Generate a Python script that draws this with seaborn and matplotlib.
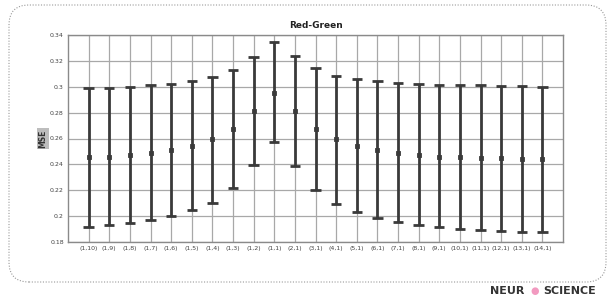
import numpy as np
import pandas as pd
import matplotlib
matplotlib.use("Agg")
import matplotlib.pyplot as plt
import seaborn as sns
from matplotlib.patches import FancyBboxPatch

categories = ["(1,10)", "(1,9)", "(1,8)", "(1,7)", "(1,6)", "(1,5)", "(1,4)", "(1,3)",
              "(1,2)", "(1,1)", "(2,1)", "(3,1)", "(4,1)", "(5,1)", "(6,1)", "(7,1)",
              "(8,1)", "(9,1)", "(10,1)", "(11,1)", "(12,1)", "(13,1)", "(14,1)"]
mean_vals = [0.2458, 0.2460, 0.2476, 0.2491, 0.2510, 0.2543, 0.2595, 0.2672,
             0.2815, 0.2954, 0.2815, 0.2673, 0.2595, 0.2540, 0.2512, 0.2491,
             0.2476, 0.2460, 0.2458, 0.2453, 0.2448, 0.2445, 0.2440]
upper_vals = [0.2988, 0.2993, 0.3000, 0.3011, 0.3021, 0.3042, 0.3078, 0.3132,
              0.3232, 0.3346, 0.3237, 0.3142, 0.3085, 0.3060, 0.3042, 0.3031,
              0.3019, 0.3011, 0.3011, 0.3011, 0.3003, 0.3003, 0.2998]
lower_vals = [0.1918, 0.1934, 0.1949, 0.1967, 0.2003, 0.2045, 0.2104, 0.2215,
              0.2393, 0.2570, 0.2385, 0.2202, 0.2096, 0.2030, 0.1983, 0.1955,
              0.1929, 0.1913, 0.1903, 0.1890, 0.1885, 0.1880, 0.1877]
y_ticks = [0.18, 0.2, 0.22, 0.24, 0.26, 0.28, 0.3, 0.32, 0.34]
y_tick_labels = ["0.18", "0.2", "0.22", "0.24", "0.26", "0.28", "0.3", "0.32", "0.34"]

rows = []
for c, lo, m, hi in zip(categories, lower_vals, mean_vals, upper_vals):
    for v in (lo, m, hi):
        rows.append({"cond": c, "MSE": v})
df = pd.DataFrame(rows)

sns.set_style("white")
fig = plt.figure(figsize=(6.13, 2.96), dpi=100)
ax = fig.add_axes([68/613, 1-242/296, (563-68)/613, (242-35)/296])

sns.pointplot(data=df, x="cond", y="MSE", order=categories,
              estimator=np.median, errorbar=lambda v: (np.min(v), np.max(v)),
              linestyle="none", markers="s", markersize=1.6, color="#3a3a3a",
              capsize=0.5, err_kws={"linewidth": 2.0, "color": "#3a3a3a",
                                    "solid_capstyle": "butt"}, ax=ax)

ax.set_xlim(-1, len(categories))
ax.set_ylim(0.18, 0.34)
ax.set_yticks(y_ticks)
ax.set_yticklabels(y_tick_labels)
ax.set_xticks(range(len(categories)))
ax.set_xticklabels(categories)
ax.tick_params(axis="both", labelsize=4.5, colors="#444444", length=0, pad=3)
ax.grid(True, color="#a8a8a8", linewidth=0.9)
ax.set_axisbelow(True)
for s in ax.spines.values():
    s.set_color("#8a8a8a")
    s.set_linewidth(1.0)
ax.set_xlabel("")
ax.set_ylabel("MSE", fontsize=5.5, fontweight="bold", color="#333333",
              bbox=dict(boxstyle="square,pad=0.2", fc="#bdbdbd", ec="none"), labelpad=2)
ax.set_title("Red-Green", fontsize=6.5, fontweight="bold", color="#222222", pad=5)

border = FancyBboxPatch((0.09, 0.14), 5.97, 2.77,
                        boxstyle="round,pad=0,rounding_size=0.2",
                        transform=fig.dpi_scale_trans, fill=False,
                        linestyle=(0, (1, 1.5)), linewidth=0.8, edgecolor="#999999")
fig.patches.append(border)

fig.text(490/613, 1-294/296, "NEUR", fontsize=8, fontweight="bold", color="#333333",
         ha="left", va="baseline")
fig.text(535/613, 1-294/296, "●", fontsize=7, color="#f29ac0", ha="center", va="baseline")
fig.text(543/613, 1-294/296, "SCIENCE", fontsize=8, fontweight="bold", color="#333333",
         ha="left", va="baseline")

fig.savefig("out.png", dpi=100)
